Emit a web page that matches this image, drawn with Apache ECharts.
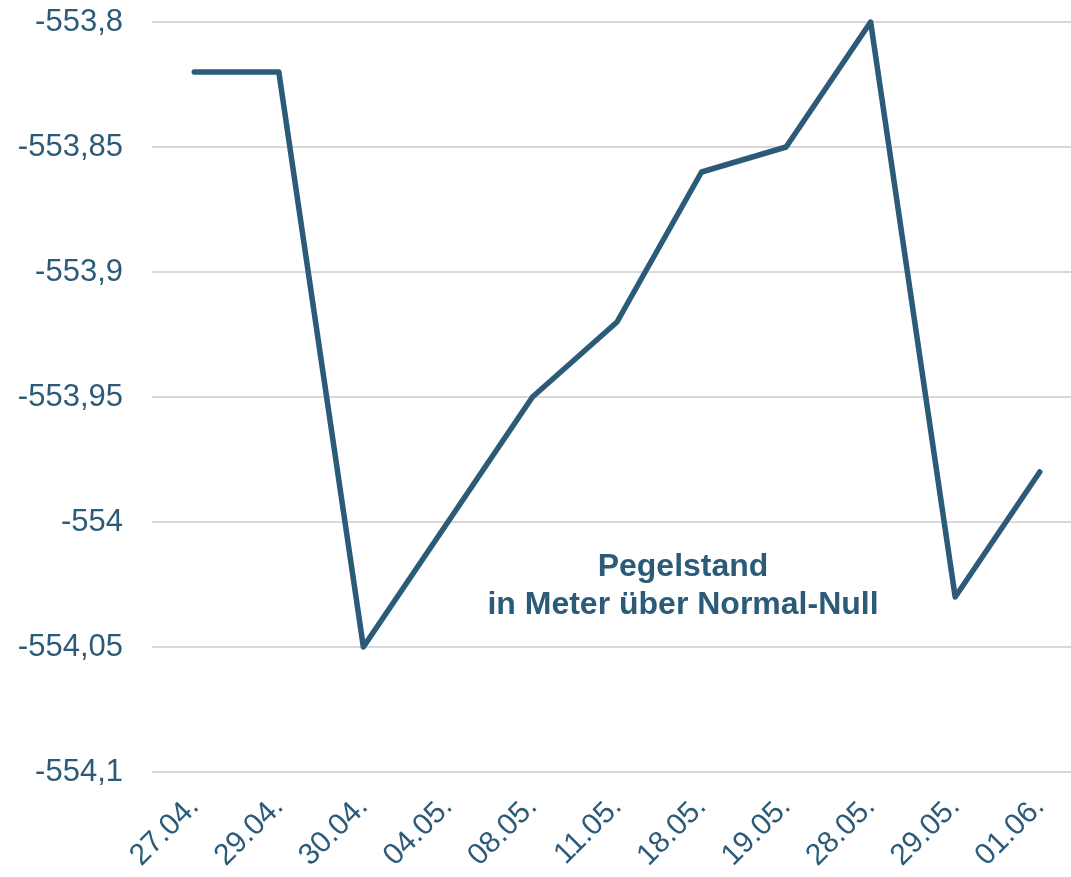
<!DOCTYPE html>
<html>
<head>
<meta charset="utf-8">
<script src="https://cdn.jsdelivr.net/npm/echarts@6/dist/echarts.min.js"></script>
<style>
  html, body { margin: 0; padding: 0; background: #fff; }
  #chart { width: 1071px; height: 877px; }
</style>
</head>
<body>
<div id="chart"></div>
<script>
const dates = ['27.04.', '29.04.', '30.04.', '04.05.', '08.05.', '11.05.', '18.05.', '19.05.', '28.05.', '29.05.', '01.06.'];
const pegel = [-553.82, -553.82, -554.05, -554.0, -553.95, -553.92, -553.86, -553.85, -553.8, -554.03, -553.98];

const color = '#2B5B78';
const chart = echarts.init(document.getElementById('chart'));

chart.setOption({
  animation: false,
  title: {
    text: 'Pegelstand\nin Meter über Normal-Null',
    left: 678,
    top: 543,
    textAlign: 'center',
    textStyle: {
      color: color,
      fontFamily: 'Liberation Sans',
      fontWeight: 'bold',
      fontSize: 32,
      lineHeight: 38
    }
  },
  grid: { left: 152, top: 22, width: 930, height: 750, outerBoundsMode: 'none' },
  xAxis: {
    type: 'category',
    data: dates,
    boundaryGap: true,
    axisLine: { show: false },
    axisTick: { show: false },
    axisLabel: {
      rotate: 45,
      margin: 30,
      color: color,
      fontFamily: 'Liberation Sans',
      fontSize: 30
    }
  },
  yAxis: {
    type: 'value',
    min: -554.1,
    max: -553.8,
    interval: 0.05,
    axisLine: { show: false },
    axisTick: { show: false },
    splitLine: { lineStyle: { color: '#d9d9d9', width: 2 } },
    axisLabel: {
      margin: 29,
      color: color,
      fontFamily: 'Liberation Sans',
      fontSize: 31,
      formatter: v => String(Math.round(v * 100) / 100).replace('.', ',')
    }
  },
  series: [{
    type: 'line',
    data: pegel,
    symbol: 'none',
    lineStyle: { color: color, width: 5.5, cap: 'round', join: 'round' }
  }]
});
</script>
</body>
</html>
